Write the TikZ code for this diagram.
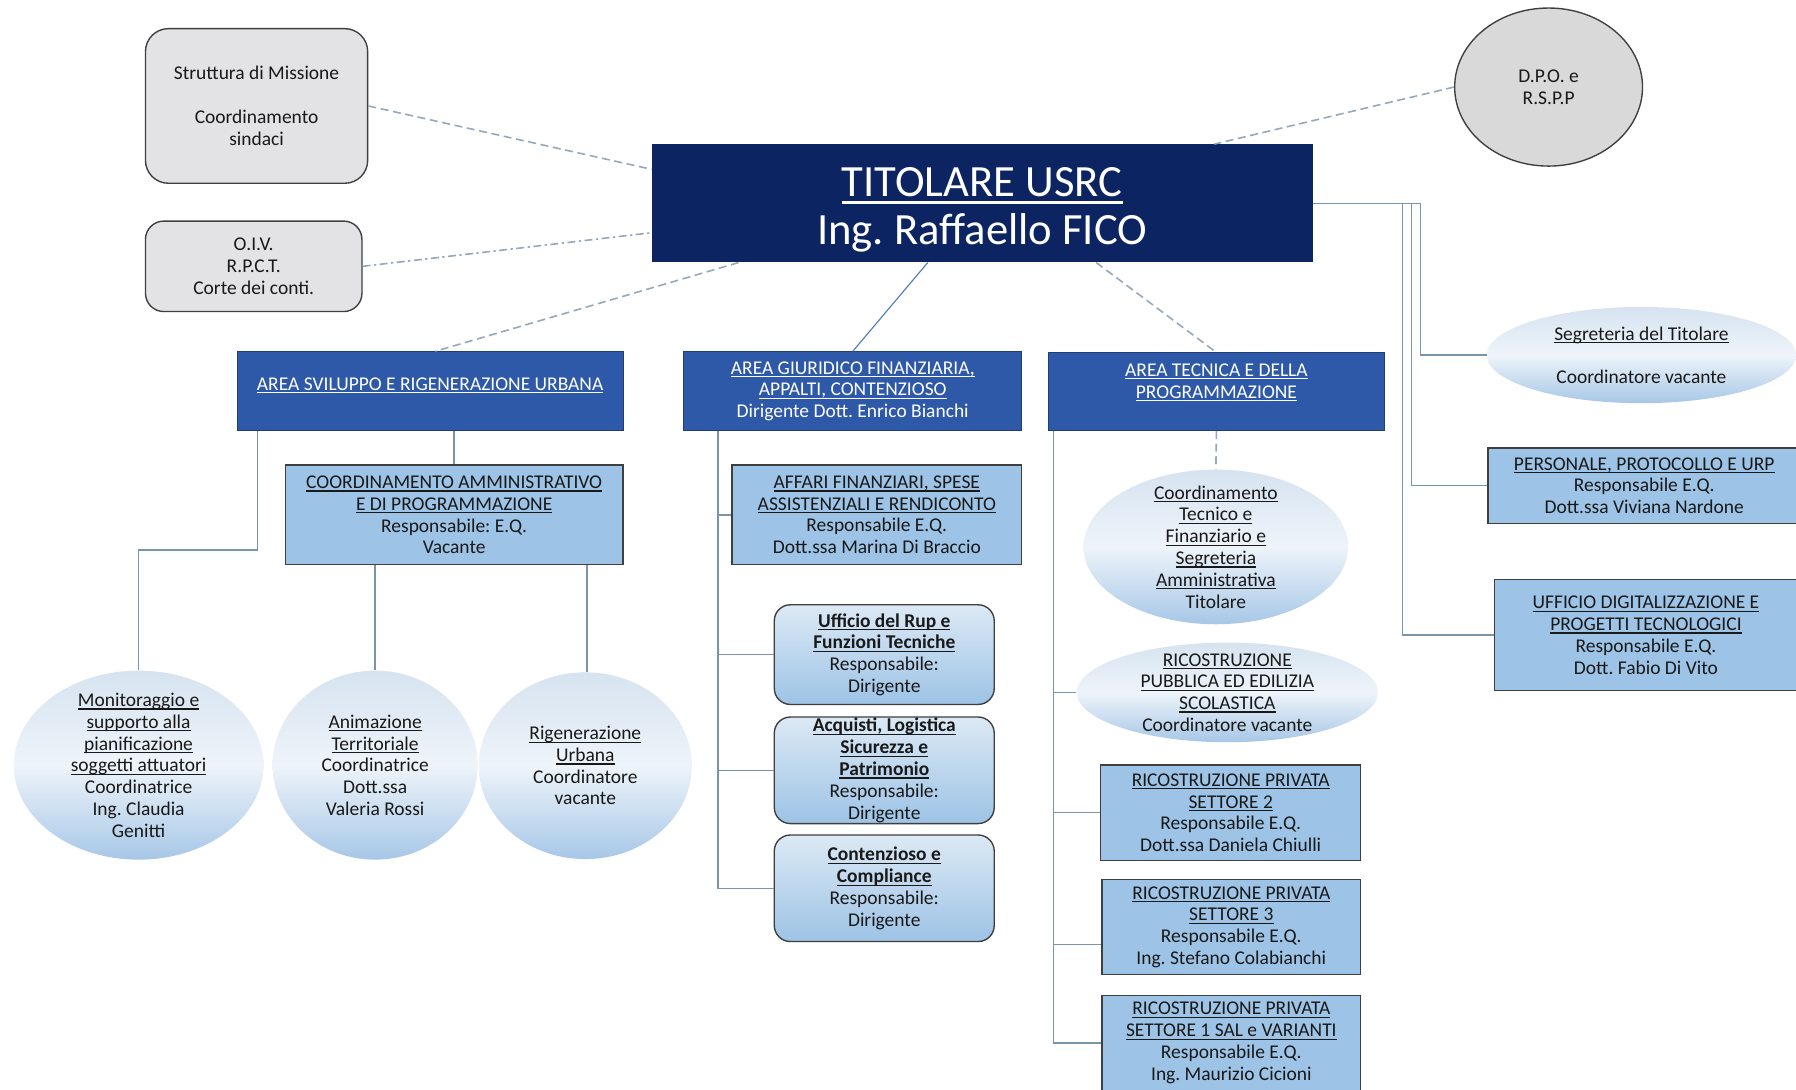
\documentclass[tikz,border=0pt]{standalone}
\usepackage{fontspec}
\setmainfont{Carlito}
\usetikzlibrary{shapes.geometric,calc}
\definecolor{navy}{RGB}{12,36,97}
\definecolor{areablue}{RGB}{46,88,168}
\definecolor{lightblue}{RGB}{157,195,230}
\definecolor{grayfill}{RGB}{227,226,229}
\definecolor{dpofill}{RGB}{217,217,217}
\definecolor{bord}{RGB}{63,63,63}
\definecolor{conncol}{RGB}{120,150,168}
\definecolor{dashcol}{RGB}{149,169,189}
\definecolor{linkblue}{RGB}{80,125,190}
\definecolor{txt}{RGB}{25,25,25}
\definecolor{bubtop}{RGB}{214,227,240}
\definecolor{bubmid}{RGB}{238,244,250}
\definecolor{bubbot}{RGB}{167,199,231}
\definecolor{rtop}{RGB}{220,233,245}
\newcommand\uln[1]{\leavevmode\setbox0=\hbox{#1}\dp0=0pt\vtop{\box0\kern0.1em\hrule height0.06em}}
\newcommand\fs{\fontsize{17}{19}\selectfont}
\frenchspacing
\begin{document}
\frenchspacing
\begin{tikzpicture}[x=1pt,y=-1pt,
  base/.style={align=center,font=\fs,text=txt,inner sep=0pt},
  graybox/.style={base,rounded corners=20pt,draw=bord,fill=grayfill,line width=1.2pt},
  areabox/.style={base,fill=areablue,draw=areablue!70!black,line width=0.6pt,text=white},
  lightbox/.style={base,fill=lightblue,draw=bord,line width=1.2pt},
  bubble/.style={ellipse,inner sep=0pt,top color=bubtop,bottom color=bubbot,middle color=bubmid,draw=none},
  rbox/.style={base,rounded corners=14pt,draw=bord,line width=1.2pt,top color=rtop,bottom color=lightblue},
  conn/.style={draw=conncol,line width=1.2pt},
  dconn/.style={draw=dashcol,line width=1.4pt,dash pattern=on 7pt off 4pt},
  dconndot/.style={draw=dashcol,line width=1.4pt,dash pattern=on 7pt off 3pt on 2pt off 3pt}]
\useasboundingbox (0,0) rectangle (1568,951);
\fill[white] (0,0) rectangle (1568,951);

% top-left boxes
\node[graybox,minimum width=194pt,minimum height=135pt] (strut) at (224,92.5)
  {Struttura di Missione\\[19pt]Coordinamento\\sindaci};
\node[graybox,rounded corners=16pt,minimum width=189pt,minimum height=79pt] (oiv) at (221.5,232.5)
  {O.I.V.\\R.P.C.T.\\Corte dei conti.};
\node[base,ellipse,draw=bord,fill=dpofill,line width=1.2pt,minimum width=164pt,minimum height=138pt] (dpo) at (1352,76)
  {D.P.O. e\\R.S.P.P};

% titolare
\node[base,fill=navy,text=white,font=\fontsize{39}{42}\selectfont,minimum width=577pt,minimum height=103pt] (tit) at (857.5,177.5)
  {\rule{0pt}{37pt}\uln{TITOLARE USRC}\\Ing. Raffaello FICO};

% areas
\node[areabox,minimum width=337pt,minimum height=69pt] (svil) at (375.5,341.5)
  {\uln{AREA SVILUPPO E RIGENERAZIONE URBANA}\\[-6pt]\mbox{}};
\node[areabox,minimum width=295pt,minimum height=69pt] (giur) at (744.5,341.5)
  {\uln{AREA GIURIDICO FINANZIARIA,}\\\uln{APPALTI, CONTENZIOSO}\\Dirigente Dott. Enrico Bianchi};
\node[areabox,minimum width=294pt,minimum height=68pt] (tec) at (1062,342)
  {\uln{AREA TECNICA E DELLA}\\\uln{PROGRAMMAZIONE}\\\mbox{}};

% sviluppo branch
\node[lightbox,minimum width=295pt,minimum height=87pt] (coam) at (396.5,449.5)
  {\uln{COORDINAMENTO AMMINISTRATIVO}\\\uln{E DI PROGRAMMAZIONE}\\Responsabile: E.Q.\\Vacante};
\node[bubble,minimum width=218pt,minimum height=165pt] (mon) at (121,668) {};
\node[base] (monT) at (mon.center)
  {\uln{Monitoraggio e}\\\uln{supporto alla}\\\uln{pianificazione}\\\uln{soggetti attuatori}\\Coordinatrice\\Ing. Claudia\\Genitti};
\node[bubble,minimum width=179pt,minimum height=165pt] (anim) at (327.5,668) {};
\node[base] (animT) at (anim.center)
  {\uln{Animazione}\\\uln{Territoriale}\\Coordinatrice\\Dott.ssa\\Valeria Rossi};
\node[bubble,minimum width=186pt,minimum height=163pt] (rig) at (511,668.5) {};
\node[base] (rigT) at (rig.center)
  {\uln{Rigenerazione}\\\uln{Urbana}\\Coordinatore\\vacante};

% giuridico branch
\node[lightbox,minimum width=253pt,minimum height=87pt] (aff) at (765.5,449.5)
  {\uln{AFFARI FINANZIARI, SPESE}\\\uln{ASSISTENZIALI E RENDICONTO}\\Responsabile E.Q.\\Dott.ssa Marina Di Braccio};
\node[rbox,minimum width=192pt,minimum height=87pt] (rup) at (772,571.5)
  {\textbf{\uln{Ufficio del Rup e}}\\\textbf{\uln{Funzioni Tecniche}}\\Responsabile:\\Dirigente};
\node[rbox,minimum width=192pt,minimum height=93pt] (acq) at (772,672.5)
  {\textbf{\uln{Acquisti, Logistica}}\\\textbf{\uln{Sicurezza e}}\\\textbf{\uln{Patrimonio}}\\Responsabile:\\Dirigente};
\node[rbox,minimum width=192pt,minimum height=93pt] (cont) at (772,775.5)
  {\textbf{\uln{Contenzioso e}}\\\textbf{\uln{Compliance}}\\Responsabile:\\Dirigente};

% tecnica branch
\node[bubble,minimum width=231pt,minimum height=135pt] (ctf) at (1061.5,477.5) {};
\node[base] (ctfT) at (ctf.center)
  {\uln{Coordinamento}\\\uln{Tecnico e}\\\uln{Finanziario e}\\\uln{Segreteria}\\\uln{Amministrativa}\\Titolare};
\node[bubble,minimum width=263pt,minimum height=87pt] (rpub) at (1071.5,604.5) {};
\node[base] (rpubT) at (rpub.center)
  {\uln{RICOSTRUZIONE}\\\uln{PUBBLICA ED EDILIZIA}\\\uln{SCOLASTICA}\\Coordinatore vacante};
\node[lightbox,minimum width=227pt,minimum height=83pt] (s2) at (1074.5,709.5)
  {\uln{RICOSTRUZIONE PRIVATA}\\\uln{SETTORE 2}\\Responsabile E.Q.\\Dott.ssa Daniela Chiulli};
\node[lightbox,minimum width=226pt,minimum height=83pt] (s3) at (1075,809.5)
  {\uln{RICOSTRUZIONE PRIVATA}\\\uln{SETTORE 3}\\Responsabile E.Q.\\Ing. Stefano Colabianchi};
\node[lightbox,minimum width=226pt,minimum height=83pt] (s1) at (1075,910.5)
  {\uln{RICOSTRUZIONE PRIVATA}\\\uln{SETTORE 1 SAL e VARIANTI}\\Responsabile E.Q.\\Ing. Maurizio Cicioni};

% right column
\node[bubble,minimum width=270pt,minimum height=84pt] (segr) at (1433,310) {};
\node[base] (segrT) at (segr.center)
  {\uln{Segreteria del Titolare}\\[19pt]Coordinatore vacante};
\node[lightbox,minimum width=273pt,minimum height=66pt] (pers) at (1435.5,424)
  {\uln{PERSONALE, PROTOCOLLO E URP}\\Responsabile E.Q.\\Dott.ssa Viviana Nardone};
\node[lightbox,minimum width=264pt,minimum height=97pt] (ufd) at (1437,554.5)
  {\uln{UFFICIO DIGITALIZZAZIONE E}\\\uln{PROGETTI TECNOLOGICI}\\Responsabile E.Q.\\Dott. Fabio Di Vito};

% dashed links to titolare
\draw[dconn] (strut.east) -- ([yshift=-22pt]tit.north west);
\draw[dconndot] (oiv.east) -- ([yshift=26pt]tit.south west);
\draw[dconn] (dpo.west) -- ([xshift=-86pt]tit.north east);
\draw[dconn] ([xshift=76pt]tit.south west) -- ([xshift=4.5pt]svil.north);
\draw[conn,draw=linkblue,line width=1pt] ([xshift=-47.5pt]tit.south) -- (giur.north);
\draw[dconn] ([xshift=99.5pt]tit.south) -- (tec.north);

% sviluppo connectors
\draw[conn] ([xshift=18pt]svil.south west) -- ++(0,104) -| (mon.north);
\draw[conn] (svil.south -| coam.north) -- (coam.north);
\draw[conn] (coam.south -| anim.north) -- (anim.north);
\draw[conn] ([xshift=1.5pt]coam.south -| rig.north) -- ([xshift=1.5pt]rig.north);

% giuridico connectors
\coordinate (gv) at ([xshift=30pt]giur.south west);
\draw[conn] (gv) -- (gv |- cont.west) -- (cont.west);
\draw[conn] (gv |- aff.west) -- (aff.west);
\draw[conn] (gv |- rup.west) -- (rup.west);
\draw[conn] (gv |- acq.west) -- (acq.west);

% tecnica connectors
\coordinate (tv) at ([xshift=5pt]tec.south west);
\draw[conn] (tv) -- (tv |- s1.west) -- (s1.west);
\draw[conn] (tv |- rpub.west) -- (rpub.west);
\draw[conn] (tv |- s2.west) -- (s2.west);
\draw[conn] ($(tv |- s3.west)+(0,15)$) -- ($(s3.west)+(0,15)$);
\draw[dconn] (tec.south) -- (ctf.north);

% right column connectors
\draw[conn] (tit.east) -- ($(tit.east)+(94,0)$) |- (segr.west);
\draw[conn] (tit.east) -- ($(tit.east)+(86,0)$) |- (pers.west);
\draw[conn] (tit.east) -- ($(tit.east)+(78,0)$) |- (ufd.west);
\end{tikzpicture}
\end{document}
